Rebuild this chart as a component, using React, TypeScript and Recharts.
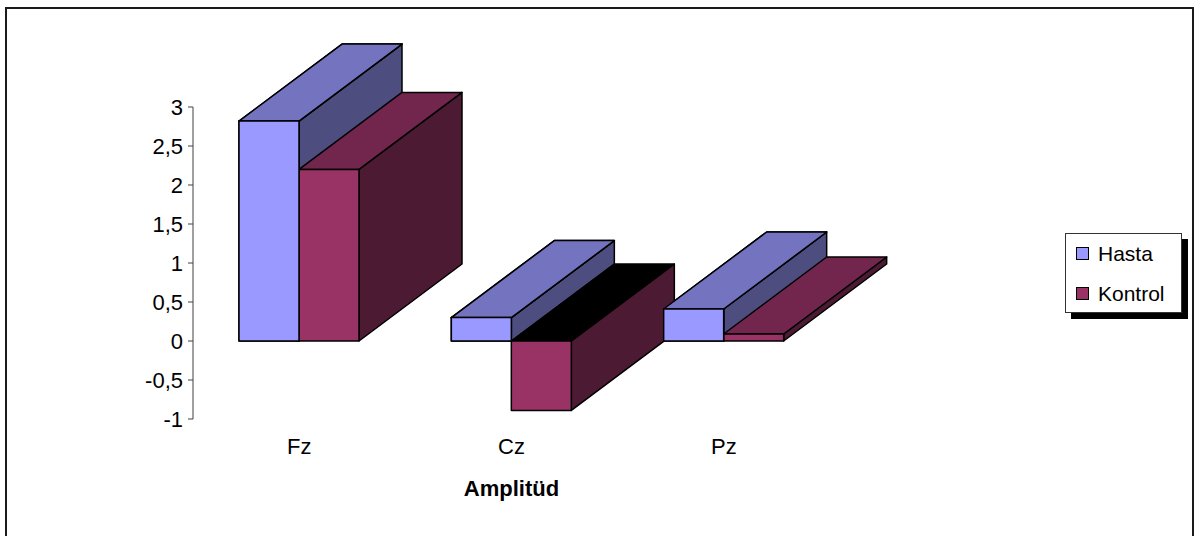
import React from 'react';
import { BarChart, Bar, XAxis, YAxis, Legend } from 'recharts';

const CATEGORIES = ['Fz', 'Cz', 'Pz'];
const HASTA = [2.82, 0.3, 0.41];
const KONTROL = [2.2, -0.89, 0.09];
const Y_TICKS = [-1, -0.5, 0, 0.5, 1, 1.5, 2, 2.5, 3];

const SERIES = [
  { key: 'hasta', name: 'Hasta' },
  { key: 'kontrol', name: 'Kontrol' },
];

const data = CATEGORIES.map((name, i) => ({
  name,
  hasta: HASTA[i],
  kontrol: KONTROL[i],
}));

// front / top / side shades of each series
const COLORS: Record<string, { front: string; top: string; side: string }> = {
  hasta: { front: '#9999FF', top: '#7373BF', side: '#4D4D80' },
  kontrol: { front: '#993366', top: '#73264D', side: '#4D1A33' },
};

const DEPTH_X = 103;
const DEPTH_Y = 77;
const FONT = '"Liberation Sans", Arial, sans-serif';

// draws a bar as an extruded box; faces="front" skips the side face
function Box3D(props: any) {
  const { x, y, width, height, payload, series, faces } = props;
  const c = COLORS[series];
  const top = Math.min(y, y + height);
  const bottom = Math.max(y, y + height);
  const negative = payload[series] < 0;
  const x2 = x + width;
  const topFace = `${x},${top} ${x2},${top} ${x2 + DEPTH_X},${top - DEPTH_Y} ${x + DEPTH_X},${top - DEPTH_Y}`;
  const sideFace = `${x2},${top} ${x2 + DEPTH_X},${top - DEPTH_Y} ${x2 + DEPTH_X},${bottom - DEPTH_Y} ${x2},${bottom}`;
  return (
    <g stroke="#000" strokeWidth={1.5} strokeLinejoin="round">
      {faces !== 'front' && <polygon points={sideFace} fill={c.side} />}
      <polygon points={topFace} fill={negative ? '#000' : c.top} />
      <rect x={x} y={top} width={width} height={bottom - top} fill={c.front} />
    </g>
  );
}

function LegendBox() {
  return (
    <div
      style={{
        position: 'relative',
        width: 117,
        height: 80,
        boxSizing: 'border-box',
        border: '1px solid #333',
        background: '#fff',
        boxShadow: '6px 6px 0 #000',
        fontFamily: FONT,
        fontSize: 21,
        color: '#000',
      }}
    >
      {SERIES.map((s, i) => (
        <React.Fragment key={s.key}>
          <div
            style={{
              position: 'absolute',
              left: 10,
              top: 13 + i * 40,
              width: 13,
              height: 13,
              boxSizing: 'border-box',
              border: '1.5px solid #000',
              background: COLORS[s.key].front,
            }}
          />
          <span
            style={{
              position: 'absolute',
              left: 32,
              top: 9 + i * 40,
              lineHeight: '21px',
              whiteSpace: 'nowrap',
            }}
          >
            {s.name}
          </span>
        </React.Fragment>
      ))}
    </div>
  );
}

export default function App() {
  const tickStyle = { fill: '#000', fontSize: 22, fontFamily: FONT };
  return (
    <div
      style={{
        position: 'absolute',
        left: 0,
        top: 0,
        width: 1196,
        height: 536,
        overflow: 'hidden',
        background: '#fff',
      }}
    >
      <div
        style={{
          position: 'absolute',
          left: 5,
          top: 7,
          width: 1189,
          height: 600,
          boxSizing: 'border-box',
          border: '2px solid #1a1a1a',
        }}
      />
      <BarChart
        width={1196}
        height={536}
        data={data}
        margin={{ top: 107, right: 366, bottom: 0, left: 0 }}
        barGap={0}
        barSize={60}
      >
        <XAxis
          xAxisId="main"
          dataKey="name"
          height={117}
          axisLine={false}
          tickLine={false}
          tickMargin={13}
          tick={tickStyle}
          label={{
            value: 'Amplitüd',
            position: 'insideTop',
            offset: 61,
            fill: '#000',
            fontSize: 22,
            fontWeight: 'bold',
            fontFamily: FONT,
          }}
        />
        <XAxis xAxisId="front" dataKey="name" height={0} hide />
        <YAxis
          type="number"
          domain={[-1, 3]}
          ticks={Y_TICKS}
          interval={0}
          width={193}
          tickSize={5}
          tickMargin={5}
          axisLine={{ stroke: '#404040' }}
          tickLine={{ stroke: '#404040' }}
          tick={tickStyle}
          tickFormatter={(v: number) => String(v).replace('.', ',')}
        />
        <Legend
          layout="vertical"
          align="center"
          verticalAlign="middle"
          wrapperStyle={{ left: 1065, top: 233, width: 117 }}
          content={() => <LegendBox />}
        />
        {/* full boxes first, then the Hasta front faces again so they sit over the neighbouring Kontrol side */}
        <Bar xAxisId="main" dataKey="hasta" isAnimationActive={false} shape={(p: any) => <Box3D {...p} series="hasta" />} />
        <Bar xAxisId="main" dataKey="kontrol" isAnimationActive={false} shape={(p: any) => <Box3D {...p} series="kontrol" />} />
        <Bar xAxisId="front" dataKey="hasta" isAnimationActive={false} legendType="none" shape={(p: any) => <Box3D {...p} series="hasta" faces="front" />} />
        <Bar xAxisId="front" dataKey="kontrol" isAnimationActive={false} legendType="none" shape={() => <g />} />
      </BarChart>
    </div>
  );
}
